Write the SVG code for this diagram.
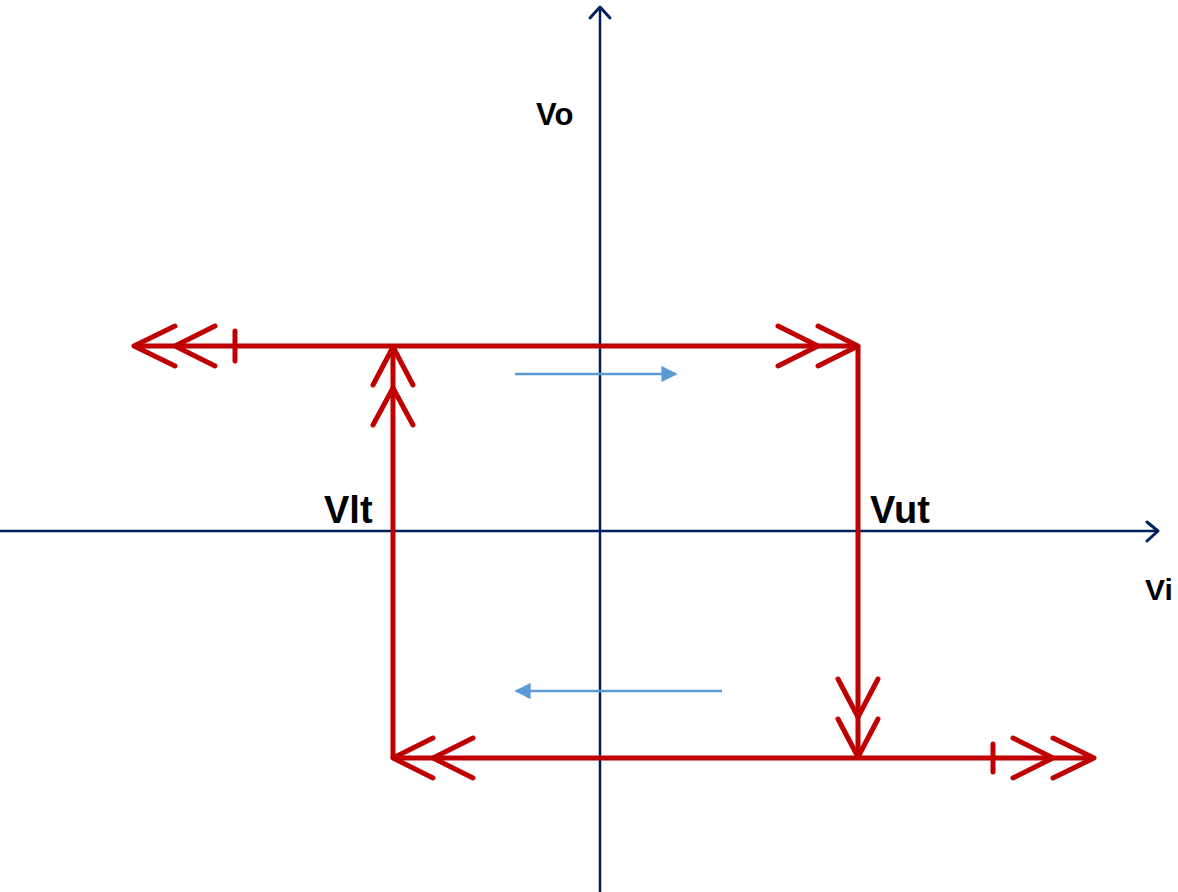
<svg xmlns="http://www.w3.org/2000/svg" width="1178" height="892" viewBox="0 0 1178 892">
  <style>
    .axis { stroke: #002060; stroke-width: 2.5; fill: none; }
    .axis-head { stroke: #002060; stroke-width: 3; fill: none; stroke-linecap: round; stroke-linejoin: round; }
    .loop { stroke: #C00000; stroke-width: 5; fill: none; }
    .chev { stroke: #C00000; stroke-width: 5; fill: none; stroke-linecap: round; stroke-linejoin: round; }
    .dir { stroke: #5B9BD5; stroke-width: 2.5; fill: none; }
    .label { font-family: "Liberation Sans", Arial, sans-serif; font-weight: bold; fill: #000000; }
  </style>
  <defs>
    <marker id="blueHead" viewBox="0 0 10 10" refX="9" refY="5" markerWidth="7" markerHeight="6.5" markerUnits="strokeWidth" orient="auto">
      <path d="M0,0 L10,5 L0,10 Z" fill="#5B9BD5"/>
    </marker>
  </defs>
  <rect width="1178" height="892" fill="#FFFFFF"/>

  <!-- axes -->
  <g id="axes">
    <line class="axis" x1="600" y1="892" x2="600" y2="8"/>
    <polyline class="axis-head" points="590,18 600,7 610,18"/>
    <line class="axis" x1="0" y1="531" x2="1157" y2="531"/>
    <polyline class="axis-head" points="1147,522 1158,531 1147,541"/>
  </g>

  <!-- hysteresis loop -->
  <g id="connectors">
    <!-- upper saturation level -->
    <line class="loop" x1="134" y1="346" x2="858" y2="346"/>
    <!-- lower threshold transition -->
    <line class="loop" x1="393" y1="346" x2="393" y2="758"/>
    <!-- upper threshold transition -->
    <line class="loop" x1="858" y1="346" x2="858" y2="758"/>
    <!-- lower saturation level -->
    <line class="loop" x1="393" y1="758" x2="1094" y2="758"/>

    <!-- left end of upper level -->
    <polyline class="chev" points="175,326 134,346 175,366"/>
    <polyline class="chev" points="215,326 175,346 215,366"/>
    <line class="chev" x1="235" y1="331" x2="235" y2="361"/>

    <!-- right end of upper level -->
    <polyline class="chev" points="778,326 818,346 778,366"/>
    <polyline class="chev" points="818,326 858,346 818,366"/>

    <!-- upward arrows on left vertical -->
    <polyline class="chev" points="373,385 393,347 413,385"/>
    <polyline class="chev" points="373,425 393,388 413,425"/>

    <!-- downward arrows on right vertical -->
    <polyline class="chev" points="838,679 858,717 878,679"/>
    <polyline class="chev" points="838,719 858,757 878,719"/>

    <!-- left end of lower level -->
    <polyline class="chev" points="433,738 393,758 433,778"/>
    <polyline class="chev" points="473,738 433,758 473,778"/>

    <!-- right end of lower level -->
    <line class="chev" x1="993" y1="744" x2="993" y2="772"/>
    <polyline class="chev" points="1013,738 1053,758 1013,778"/>
    <polyline class="chev" points="1053,738 1094,758 1053,778"/>

    <!-- sweep direction -->
    <line class="dir" x1="515" y1="374" x2="676" y2="374" marker-end="url(#blueHead)"/>
    <line class="dir" x1="722" y1="691" x2="516" y2="691" marker-end="url(#blueHead)"/>
  </g>

  <!-- labels -->
  <g id="label-vo"><text class="label" x="536" y="125" font-size="31">Vo</text></g>
  <g id="label-vi"><text class="label" x="1145" y="600" font-size="30">Vi</text></g>
  <g id="label-vlt"><text class="label" x="324" y="523" font-size="38">Vlt</text></g>
  <g id="label-vut"><text class="label" x="870" y="523" font-size="38">Vut</text></g>
</svg>
